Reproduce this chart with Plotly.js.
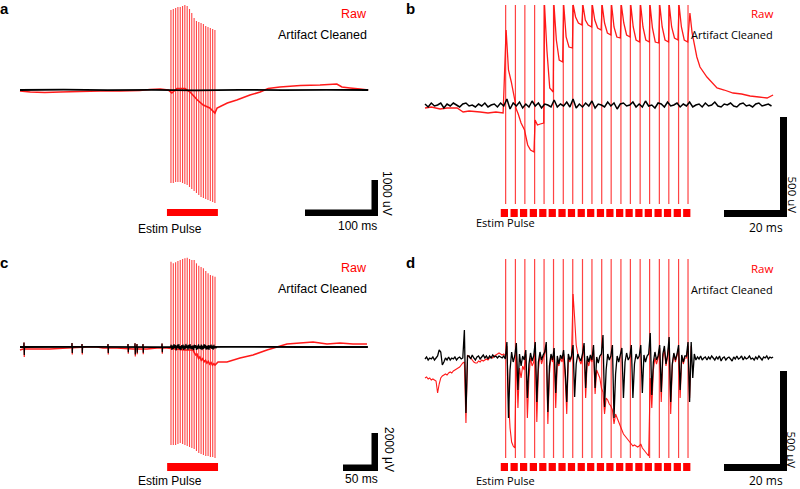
<!DOCTYPE html>
<html><head><meta charset="utf-8">
<script src="https://cdn.plot.ly/plotly-3.0.1.min.js"></script>
<style>html,body{margin:0;padding:0;background:#fff}#chart{width:800px;height:489px}</style>
</head><body><div id="chart"></div>
<script>
// ================= DATA =================
// ---- Panel a (time in ms, voltage in uV) ----
const pulsesA = [206.8,210.0,213.2,216.3,219.5,222.7,225.8,229.0,232.2,235.3,238.5,241.7,244.9,248.0,251.2,254.4,257.5,260.7,263.9,267.0];
const spikeTopA = [2222,2250,2278,2306,2306,2333,2361,2333,2250,2139,2000,1917,1889,1861,1833,1778,1750,1722,1694,1667];
const spikeBotA = [-2583,-2583,-2556,-2556,-2556,-2583,-2611,-2639,-2694,-2750,-2806,-2861,-2917,-2972,-3000,-3028,-3056,-3083,-3111,-3139];
const rawA_t = [0,14,34,55,82,110,137,164,178,192,203,208,215,226,233,243,251,260,267,270,284,297,315,329,340,356,384,411,434,441,452,466,477];
const rawA_v = [-28,-56,-69,-56,-42,-28,-28,-14,14,28,0,-83,42,42,-56,-278,-417,-500,-639,-500,-361,-278,-139,-56,42,83,125,139,167,83,56,28,0];
const cleanA_t = [0,60,120,180,240,300,360,420,477];
const cleanA_v = [0,8,-6,5,-8,6,-5,4,0];

// ---- Panel b ----
const pulsesB = [25.6,28.7,31.7,34.8,37.8,40.8,43.9,46.9,50.0,53.0,56.1,59.1,62.2,65.2,68.3,71.3,74.4,77.4,80.5,83.5];
const spikeTopB = [500,500,500,500,500,500,500,500,500,500,500,500,500,500,500,500,500,500,500,500];
const spikeBotB = [-495,-495,-495,-495,-495,-495,-495,-495,-495,-495,-495,-495,-495,-495,-495,-495,-495,-495,-495,-495];
const rawPreB_t = [0,2,4.8,7,10.2,12.1,14,17.5,20,22.5,24.8];
const rawPreB_v = [-15,-10,-20,-15,-15,-35,-30,-35,-40,-35,-40];
// raw value after each pulse: just after, ~0.9 ms, ~1.8 ms, just before next pulse
const decay0B = [375,-15,-145,-75,500,500,500,500,500,500,500,500,500,500,500,500,500,500,500];
const decay1B = [175,-45,-200,-100,275,325,340,440,425,425,410,390,410,390,390,385,390,390,390];
const decay2B = [115,-90,-225,-95,85,225,290,410,400,385,360,340,350,325,325,315,325,335,325];
const decay3B = [25,-125,-235,-90,65,215,285,400,390,375,350,335,340,315,315,310,315,325,315];
const rawPostB_t = [84.1,84.8,86.3,87.3,89.5,92.7,95,97.8,100.5,103.2,106,108.6,110.5];
const rawPostB_v = [460,360,240,190,140,85,75,60,55,45,40,35,50];
const cleanB = [5,-10,10,-5,0,10,-15,5,-5,10,
  0,-10,5,10,-5,0,-10,5,-5,10,
  -10,0,5,-10,10,-5,30,-20,10,-5,
  15,-15,5,-10,20,-5,10,-15,5,0,
  -10,25,-10,5,-5,15,-10,30,-15,5,
  -10,10,-5,20,-15,5,0,-10,15,-5,
  10,-20,5,10,-5,0,15,-10,5,-10,
  20,-5,0,-15,10,5,-10,15,-5,0,
  10,-10,5,-5,15,-10,0,5,-10,10,
  -5,0,15,-5,-10,5,0,10,-5,-10,
  5,10,-5,0,-10,5,10,-5,0,5,-5];

// ---- Panel c ----
const pulsesC = [215.7,219.0,222.3,225.6,228.9,232.3,235.6,238.9,242.2,245.5,248.8,252.1,255.4,258.7,262.0,265.4,268.7,272.0,275.3,278.6];
const spikeTopC = [4489,4405,4458,4526,4579,4631,4668,4700,4631,4579,4579,4405,4279,4210,4142,4000,3879,3789,3753,3700];
const spikeBotC = [-5158,-5158,-5158,-5105,-5053,-5105,-5158,-5211,-5263,-5316,-5368,-5474,-5579,-5632,-5684,-5737,-5737,-5789,-5789,-5842];
const rawC_t = [0,4.3,18.6,42.9,67.1,95.7,110,118.6,138.6,161.4,181.4,195.7,210,221.4,235.7,247,249,251,253,255,257,259,261,263,265,267,269,271,273,275,277,278.6,282.9,295.7,314.3,332.9,352.9,367.1,381.4,400,418.6,438.6,457.1,475.7,495.7];
const rawC_v = [-158,-105,-105,-105,-53,0,0,-53,-53,-105,-105,-53,-53,-105,-158,-158,-300,-420,-380,-600,-520,-700,-620,-780,-700,-850,-760,-900,-820,-960,-880,-947,-789,-789,-579,-421,-158,0,158,211,263,158,211,158,158];
const cleanC_t = [0,100,200,300,400,497];
const cleanC_v = [0,10,-10,10,0,0];
const unitC_t = [5.7,74.3,88.6,125.7,154.3,164.3,167.1,175.7,202.9];
const unitC_up = [230,210,160,160,160,200,160,160,180];
const unitC_dn = [-420,-320,-320,-320,-280,-400,-300,-300,-280];
const burstC_t0 = 215;   // cleaned residual during stimulation, 1 ms samples
const burstC = [0,120,-150,80,-100,150,-60,100,-180,60,
  120,-90,150,-120,40,-160,100,-80,130,-150,
  70,-110,160,-60,90,-140,110,-70,150,-100,
  60,-130,90,-170,120,-50,100,-150,80,-120,
  140,-90,60,-110,130,-160,70,-100,150,-80,
  110,-140,60,-120,100,-150,90,-60,130,-100,
  70,-140,120,-80,40,-60,0];

// ---- Panel d (0.5 ms samples) ----
const pulsesD = [25.6,28.7,31.7,34.8,37.8,40.8,43.9,46.9,50.0,53.0,56.1,59.1,62.2,65.2,68.3,71.3,74.4,77.4,80.5,83.5];
const spikeTopD = [495,495,495,495,495,495,495,495,495,495,495,495,495,495,495,495,495,495,495,495];
const spikeBotD = [-500,-500,-500,-500,-500,-500,-500,-500,-500,-500,-500,-500,-500,-500,-500,-500,-500,-500,-500,-500];
const rawD = [-100,-95,-105,-100,-110,-105,-110,-115,-175,-130,
  -100,-90,-85,-80,-85,-75,-70,-75,-65,-60,
  -55,-50,-45,-35,-25,-20,-325,15,5,0,
  -10,-20,-25,-25,-15,-20,-10,-15,-10,-5,
  -10,0,5,0,10,15,20,25,20,15,
  20,10,
  60,-200,-350,-420,-440,-450,
  40,-250,-50,-100,-40,-60,
  20,-300,-100,0,-40,-20,
  60,-320,-60,20,-30,0,
  20,60,-330,-80,10,-20,
  30,-250,-20,-40,0,-20,
  20,-100,-280,0,-20,0,
  320,200,65,20,-10,-30,
  0,60,-200,-10,-40,0,
  -20,40,-180,-60,-80,-100,
  -150,-170,-280,-200,-210,-230,
  -240,-260,-330,-280,-300,-320,
  -340,-360,-380,-390,-400,-410,
  -420,-430,-440,-435,-440,-445,
  -440,-430,-450,-460,-470,-480,
  -490,-100,-250,-60,0,-30,
  0,50,-220,0,40,-40,
  10,80,-280,-40,20,-20,
  10,50,-200,10,-30,0,
  0,60,-200,60];
const cleanD = [-5,5,-10,0,-5,5,-10,0,10,40,
  30,-35,-20,0,-10,5,-10,0,-5,5,
  -10,0,5,-5,0,140,-275,10,10,-5,
  15,0,-10,5,10,-5,5,15,0,10,
  -5,10,0,15,5,10,0,10,5,0,
  10,-5,
  80,-300,-60,30,-20,10,
  75,-160,20,-40,10,-10,
  40,-200,-30,25,-15,10,
  80,-220,-20,30,-10,15,
  30,80,-270,-40,20,-10,
  50,-175,10,-30,15,-5,
  40,-60,-220,20,-10,10,
  65,-195,-30,20,0,-15,
  20,75,-150,10,-20,15,
  -10,65,-150,5,-25,10,
  20,115,-245,-60,20,-10,
  10,65,-300,-80,10,-20,
  15,50,-200,-20,25,-10,
  5,65,-200,-30,20,-5,
  10,65,-175,15,-20,10,
  20,125,-185,-20,30,-10,
  10,65,-170,20,60,-30,
  15,105,-220,-30,25,-10,
  20,65,-160,15,-20,10,
  10,80,-220,80,-100,20,
  -10,5,-5,10,-10,0,5,-10,5,-5,
  10,0,-10,5,-5,10,-15,0,5,-10,
  0,5,-5,-15,5,-5,10,-5,0,10,
  -10,5,-5,0,10,-5,0,-10,5,-5,
  10,0,-10,5,0,10,-5,5,0,5];

// ================= LAYOUT HELPERS =================
// pixel calibration of each panel: origin pixel and pixels per unit
const calA = {x0:20,  y0:90,  kx:0.73, ky:0.036};
const calB = {x0:425, y0:105, kx:3.15, ky:0.2};
const calC = {x0:20,  y0:347, kx:0.70, ky:0.019};
const calD = {x0:425, y0:358, kx:3.15, ky:0.2};
const toT = (c, px) => (px - c.x0) / c.kx;
const toV = (c, py) => (c.y0 - py) / c.ky;

const RED = '#ff1a1a';
const SPK = 'rgba(255,20,20,0.8)';
const BLK = '#000000';

function tr(x, y, ax, color, width) {
  return {x, y, xaxis:'x'+ax, yaxis:'y'+ax, type:'scatter', mode:'lines',
    line:{color, width, simplify:false}, hoverinfo:'skip', showlegend:false};
}
function uni(vals, t0, dt) { return vals.map((_, i) => t0 + i*dt); }
function spikes(p, top, bot, ax, color, w) {
  const x=[], y=[];
  p.forEach((t,i)=>{ x.push(t,t,null); y.push(top[i],bot[i],null); });
  return tr(x, y, ax, color, w);
}
function ticks(t, up, dn, ax, color, w, scale) {
  const x=[], y=[];
  t.forEach((v,i)=>{ x.push(v-0.3,v,v+0.4,v+0.8,null); y.push(0,up[i],dn[i]*scale,0,null); });
  return tr(x, y, ax, color, w);
}

// build panel b raw trace from pre-stim, per-pulse decays and post-stim
const offsB = [0.15, 0.9, 1.8, 2.9];
const rawBx = rawPreB_t.slice(), rawBy = rawPreB_v.slice();
for (let k=0; k<decay0B.length; k++) {
  const vals = [decay0B[k], decay1B[k], decay2B[k], decay3B[k]];
  offsB.forEach((o,j)=>{ rawBx.push(pulsesB[k]+o); rawBy.push(vals[j]); });
}
rawPostB_t.forEach((t,i)=>{ rawBx.push(t); rawBy.push(rawPostB_v[i]); });

const traces = [
  // a
  tr(rawA_t, rawA_v, '', RED, 1.6),
  spikes(pulsesA, spikeTopA, spikeBotA, '', SPK, 1.1),
  tr(cleanA_t, cleanA_v, '', BLK, 1.8),
  // b
  tr(rawBx, rawBy, '2', RED, 1.3),
  spikes(pulsesB, spikeTopB, spikeBotB, '2', SPK, 1.2),
  tr(uni(cleanB, 0, 1), cleanB, '2', BLK, 1.5),
  // c
  tr(rawC_t, rawC_v, '3', RED, 1.6),
  ticks(unitC_t, unitC_up, unitC_dn, '3', RED, 1.2, 1.25),
  spikes(pulsesC, spikeTopC, spikeBotC, '3', SPK, 1.1),
  tr(cleanC_t, cleanC_v, '3', BLK, 1.8),
  ticks(unitC_t, unitC_up, unitC_dn, '3', BLK, 1.2, 1.0),
  tr(uni(burstC, burstC_t0, 1), burstC, '3', BLK, 1.1),
  // d
  tr(uni(rawD, 0, 0.5), rawD, '4', RED, 1.1),
  spikes(pulsesD, spikeTopD, spikeBotD, '4', SPK, 1.2),
  tr(uni(cleanD, 0, 0.5), cleanD, '4', BLK, 1.3)
];

// shapes: stimulation markers and scale bars
const shapes = [];
function rect(ax, x0, x1, y0, y1, color) {
  shapes.push({type:'rect', xref:'x'+ax, yref:'y'+ax, x0, x1, y0, y1,
    fillcolor:color, line:{width:0}, layer:'above'});
}
rect('',  pulsesA[0]-5.5, pulsesA[19]+4.1, toV(calA,216), toV(calA,209), '#ff0000');
rect('3', pulsesC[0]-5.5, pulsesC[19]+4.3, toV(calC,471), toV(calC,463), '#ff0000');
pulsesB.forEach(p => rect('2', p-1.55, p+0.75, toV(calB,217), toV(calB,209), '#ff0000'));
pulsesD.forEach(p => rect('4', p-1.55, p+0.75, toV(calD,471), toV(calD,463), '#ff0000'));
// scale bars (length in data units)
function scaleBar(ax, c, xEndPx, yBotPx, ms, uv, th) {
  const t1 = toT(c, xEndPx), v0 = toV(c, yBotPx);
  const thT = th / c.kx, thV = th / c.ky;
  rect(ax, t1-ms, t1, v0, v0+thV, '#000');
  rect(ax, t1-thT, t1, v0, v0+uv, '#000');
}
scaleBar('',  calA, 378, 216, 100, 1000, 6.5);
scaleBar('2', calB, 787, 217, 20, 500, 7);
scaleBar('3', calC, 378, 471, 50, 2000, 6.5);
scaleBar('4', calD, 787, 471, 20, 500, 7);

// annotations (pixel positions -> paper)
const P = x => x/800, Q = y => 1 - y/489;
const FA = 'Liberation Sans, Arial, sans-serif';
const FB = 'Open Sans, sans-serif';
const annotations = [];
function ann(text, x, y, xa, size, color, family, extra) {
  annotations.push(Object.assign({text, x:P(x), y:Q(y), xref:'paper', yref:'paper',
    xanchor:xa, yanchor:'middle', showarrow:false, borderpad:0,
    font:{size, color, family}}, extra||{}));
}
// panel letters
ann('<b>a</b>', -1, 8, 'left', 15, BLK, FA);
ann('<b>b</b>', 405, 8, 'left', 15, BLK, FA);
ann('<b>c</b>', -1, 262, 'left', 15, BLK, FA);
ann('<b>d</b>', 405, 262, 'left', 15, BLK, FA);
// legends
ann('Raw', 368, 14, 'right', 12.5, '#ff0000', FA);
ann('Artifact Cleaned', 368, 35, 'right', 12.5, BLK, FA);
ann('Raw', 774, 14, 'right', 11.5, '#ff0000', FB);
ann('Artifact Cleaned', 774, 35, 'right', 11, BLK, FB);
ann('Raw', 368, 268, 'right', 12.5, '#ff0000', FA);
ann('Artifact Cleaned', 368, 289, 'right', 12.5, BLK, FA);
ann('Raw', 774, 268, 'right', 11.5, '#ff0000', FB);
ann('Artifact Cleaned', 774, 289, 'right', 11, BLK, FB);
// estim labels
ann('Estim Pulse', 170, 229, 'center', 12, BLK, FA);
ann('Estim Pulse', 505, 222, 'center', 11, BLK, FB);
ann('Estim Pulse', 170, 481, 'center', 12, BLK, FA);
ann('Estim Pulse', 505, 480.5, 'center', 11, BLK, FB);
// scale labels
ann('100 ms', 357, 226, 'center', 12, BLK, FA);
ann('1000 uV', 387, 193, 'center', 12, BLK, FA, {textangle:90});
ann('20 ms', 766, 227, 'center', 12, BLK, FB);
ann('500 uV', 791.5, 195, 'center', 11.5, BLK, FB, {textangle:90});
ann('50 ms', 361, 479, 'center', 12, BLK, FA);
ann('2000 μV', 389, 449, 'center', 12, BLK, FA, {textangle:90});
ann('20 ms', 766, 480, 'center', 12, BLK, FB);
ann('500 μV', 791.5, 450, 'center', 11.5, BLK, FB, {textangle:90});

function ax(domain, range, anchor) {
  return {domain, range, anchor, visible:false, fixedrange:true, showgrid:false, zeroline:false};
}
const layout = {
  width:800, height:489, margin:{l:0,r:0,t:0,b:0},
  paper_bgcolor:'#fff', plot_bgcolor:'rgba(0,0,0,0)', showlegend:false,
  xaxis:  ax([0,0.5], [toT(calA,0), toT(calA,400)], 'y'),
  yaxis:  ax([0.5,1], [toV(calA,244.5), toV(calA,0)], 'x'),
  xaxis2: ax([0.5,1], [toT(calB,400), toT(calB,800)], 'y2'),
  yaxis2: ax([0.5,1], [toV(calB,244.5), toV(calB,0)], 'x2'),
  xaxis3: ax([0,0.5], [toT(calC,0), toT(calC,400)], 'y3'),
  yaxis3: ax([0,0.5], [toV(calC,489), toV(calC,244.5)], 'x3'),
  xaxis4: ax([0.5,1], [toT(calD,400), toT(calD,800)], 'y4'),
  yaxis4: ax([0,0.5], [toV(calD,489), toV(calD,244.5)], 'x4'),
  shapes, annotations
};
Plotly.newPlot('chart', traces, layout, {staticPlot:true, displayModeBar:false});
</script>
</body></html>
